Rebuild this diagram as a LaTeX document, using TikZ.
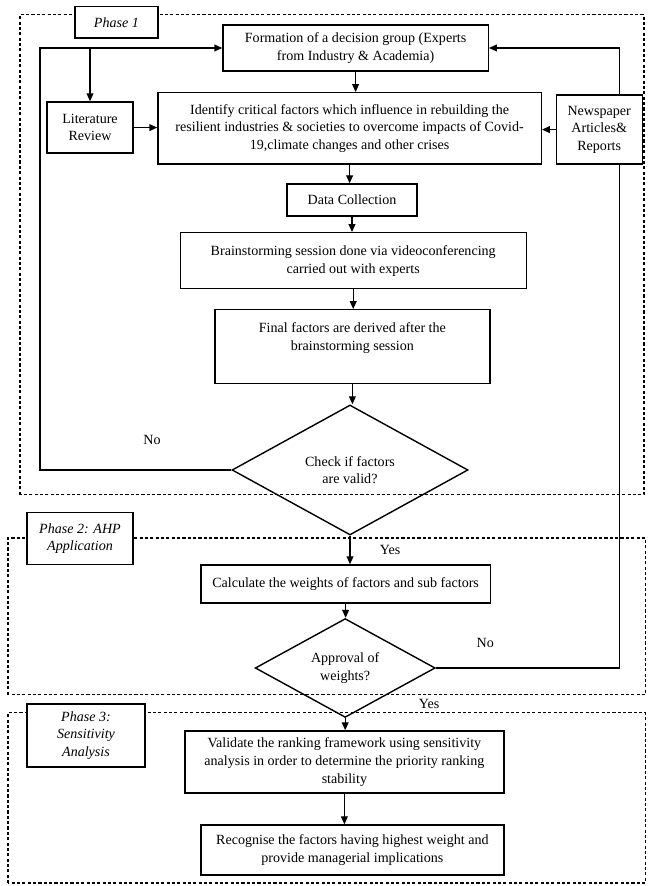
\documentclass[tikz,border=0pt]{standalone}
\usepackage{fontspec}
\setmainfont{Liberation Serif}
\usetikzlibrary{arrows.meta, shapes.geometric}

\begin{document}
\begin{tikzpicture}[
    font=\fontsize{10}{12.5}\selectfont,
    box/.style={rectangle, draw=black, fill=white, line width=1pt,
      align=center, inner sep=2pt},
    decide/.style={diamond, draw=black, line width=1pt, align=center,
      inner sep=0pt},
    phase/.style={draw=black, line width=1pt, dash pattern=on 2.2pt off 1.6pt},
    tag/.style={rectangle, draw=black, fill=white, line width=1pt,
      align=center, font=\fontsize{10}{12.5}\selectfont\itshape},
    arr/.style={line width=1pt, -{Triangle[length=2mm, width=1.7mm]}},
    link/.style={line width=1pt},
  ]
    \useasboundingbox (0,0) rectangle (16.3,22.15);
    % phase frames
    \draw[phase] (0.5,9.78) rectangle (16.1,21.78);
    \draw[phase] (0.2,4.78) rectangle (16.13,8.7);
    \draw[phase] (0.2,0.075) rectangle (16.13,4.33);
    % phase tags
    \node[tag, minimum width=2.08cm, minimum height=0.78cm] (tag1) at (2.91,21.59) {Phase 1};
    \node[tag, minimum width=2.65cm, minimum height=1.3cm] (tag2) at (2.0,8.68) {Phase 2: AHP\\Application};
    \node[tag, minimum width=2.95cm, minimum height=1.58cm] (tag3) at (2.15,3.76) {Phase 3:\\Sensitivity\\Analysis};
    % phase 1 steps
    \node[box, minimum width=6.63cm, minimum height=1.15cm] (form) at (8.89,20.95)
          {Formation of a decision group (Experts\\from Industry \& Academia)};
    \node[box, minimum width=2.15cm, minimum height=1.28cm] (lit) at (2.25,18.96)
          {Literature\\Review};
    \node[box, minimum width=9.58cm, minimum height=1.78cm] (ident) at (8.74,18.94)
          {Identify critical factors which influence in rebuilding the\\resilient industries \& societies to overcome impacts of Covid-\\19,climate changes and other crises};
    \node[box, minimum width=2.15cm, minimum height=1.73cm] (news) at (14.98,18.91)
          {Newspaper\\Articles\&\\Reports};
    \node[box, minimum width=3.25cm, minimum height=0.8cm] (data) at (8.8,17.15)
          {Data Collection};
    \node[box, minimum width=8.65cm, minimum height=1.4cm] (brain) at (8.83,15.63)
          {Brainstorming session done via videoconferencing\\carried out with experts};
    \node[box, minimum width=6.88cm, minimum height=1.85cm] (final) at (8.81,13.48)
          {Final factors are derived after the\\brainstorming session\\[2pt]~};
    \node[decide, minimum width=5.9cm, minimum height=3.25cm] (check) at (8.75,10.4)
          {Check if factors\\are valid?};
    % phase 2 steps
    \node[box, minimum width=7.23cm, minimum height=0.95cm] (calc) at (8.64,7.55)
          {Calculate the weights of factors and sub factors};
    \node[decide, minimum width=4.5cm, minimum height=2.23cm] (appr) at (8.63,5.45)
          {Approval of\\weights?};
    % phase 3 steps
    \node[box, minimum width=7.98cm, minimum height=1.55cm] (valid) at (8.61,3.1)
          {Validate the ranking framework using sensitivity\\analysis in order to determine the priority ranking\\stability};
    \node[box, minimum width=7.58cm, minimum height=1.25cm] (recog) at (8.81,0.9)
          {Recognise the factors having highest weight and\\provide managerial implications};
    % main chain
    \foreach \a/\b in {form/ident, ident/data, data/brain, brain/final, final/check,
                       check/calc, calc/appr, appr/valid, valid/recog}
      \draw[arr] (\a.south) -- (\a.south |- \b.north);
    % side inputs
    \coordinate (lft) at (1.0,20.95);
    \coordinate (rgt) at (15.48,20.95);
    \draw[arr] (lit.north |- lft) -- (lit.north);
    \draw[arr] (lit.east) -- (lit.east -| ident.west);
    \draw[arr] (news.west) -- (news.west -| ident.east);
    % feedback loops
    \draw[arr] (check.west) -| (lft) -- (form.west);
    \draw[link] (appr.east) -| (news.south -| rgt);
    \draw[arr] (news.north -| rgt) -- (rgt) -- (form.east);
    % answers
    \node (no1) at (3.8,11.15) {No};
    \node (yes1) at (9.75,8.4) {Yes};
    \node (no2) at (12.13,6.08) {No};
    \node (yes2) at (10.73,4.55) {Yes};
  \end{tikzpicture}
\end{document}
